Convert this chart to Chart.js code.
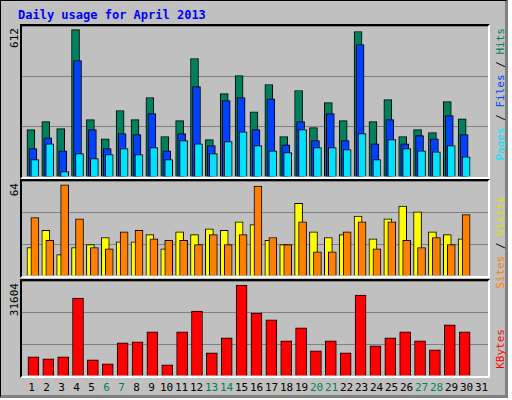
<!DOCTYPE html>
<html><head><meta charset="utf-8">
<script src="https://cdn.jsdelivr.net/npm/chart.js@4"></script>
<style>
body{margin:0;width:512px;height:400px;overflow:hidden;background:#fff;font-family:"DejaVu Sans Mono",monospace;}
#wrap{position:absolute;left:0;top:0;width:504px;height:394px;background:#c0c0c0;border:1px solid #000;border-right:3px solid #808080;border-bottom:3px solid #808080;}
.panel{position:absolute;left:20px;width:470px;background:#c0c0c0;border-top:2px solid #000;border-left:2px solid #000;border-right:2px solid #fff;border-bottom:2px solid #fff;box-sizing:border-box;}
.panel canvas{position:absolute;left:0;top:0;}
.vt{position:absolute;writing-mode:vertical-rl;transform:rotate(180deg);font-size:11px;white-space:nowrap;}
#title{position:absolute;left:18px;top:8px;color:#0000ff;font-weight:bold;font-size:12px;}
.day{position:absolute;top:381px;font-size:11px;width:16px;text-align:center;}
</style></head><body>
<div id="wrap"></div>
<div id="title">Daily usage for April 2013</div>
<div class="panel" id="p1" style="top:24px;height:155px"><canvas id="c1"></canvas></div>
<div class="panel" id="p2" style="top:179px;height:99px"><canvas id="c2"></canvas></div>
<div class="panel" id="p3" style="top:279px;height:99px"><canvas id="c3"></canvas></div>
<div class="vt" style="left:8px;top:28px">612</div>
<div class="vt" style="left:8px;top:183px">64</div>
<div class="vt" style="left:8px;top:283px">31604</div>
<div class="vt" style="left:494px;top:28px"><span style="color:#00e0ff">Pages</span> / <span style="color:#0040ff">Files</span> / <span style="color:#00805c">Hits</span></div>
<div class="vt" style="left:494px;top:196px"><span style="color:#ff8000">Sites</span> / <span style="color:#e0e000">Visits</span></div>
<div class="vt" style="left:494px;top:329px;color:#ff0000">KBytes</div>
<div id="days"></div>
<script>
const days=[1,2,3,4,5,6,7,8,9,10,11,12,13,14,15,16,17,18,19,20,21,22,23,24,25,26,27,28,29,30,31];
const weekends=[6,7,13,14,20,21,27,28];
const hits=[197,230,201,612,238,159,276,238,330,168,234,492,155,346,421,271,384,168,359,205,309,234,604,230,321,168,197,184,313,242];
const files=[118,163,109,483,197,118,180,176,263,109,180,375,130,317,330,197,325,134,230,151,263,151,550,138,238,138,172,159,255,176];
const pages=[72,138,22,97,76,93,118,93,122,72,151,138,97,147,188,130,109,101,197,122,122,114,180,72,155,118,109,105,130,84];
const visits=[20,32,15,20,22,27,24,24,29,19,31,29,33,32,38,36,25,22,51,31,27,29,42,26,40,49,45,31,29,26];
const sites=[41,25,64,40,20,19,31,32,26,25,25,22,29,22,29,63,27,22,38,17,17,31,38,19,38,25,20,27,22,43];
const kbytes=[6690,6000,6690,27100,5650,4270,11530,11880,15340,3920,15340,22600,8070,13260,31604,21900,19490,12220,16720,8760,12220,8070,28140,10490,13260,15340,12220,9110,17760,15340];

const dd=document.getElementById('days');
days.forEach(d=>{const e=document.createElement('div');e.className='day';e.textContent=d;
 e.style.left=(31.5+(d-1)*15-8)+'px';e.style.color=weekends.includes(d)?'#00805c':'#000';dd.appendChild(e);});

function mk(id,w,h,ymax,sets){
 const c=document.getElementById(id);c.width=w;c.height=h;c.style.width=w+'px';c.style.height=h+'px';
 new Chart(c,{type:'bar',data:{datasets:sets.map((s,k)=>({data:s.v.map((v,i)=>({x:days[i]+s.o,y:v})),backgroundColor:s.c,borderColor:'#000',borderWidth:1,barThickness:s.w,grouped:false,order:sets.length-k}))},
 options:{responsive:false,animation:false,devicePixelRatio:1,layout:{padding:0},
  plugins:{legend:{display:false},tooltip:{enabled:false}},
  scales:{x:{type:'linear',offset:false,min:0.233,max:31.57,display:false},
   y:{min:0,max:ymax,border:{display:false},ticks:{display:false},
    afterBuildTicks:a=>{a.ticks=[0,ymax/3,2*ymax/3,ymax].map(v=>({value:v}));},
    grid:{color:'#808080',drawTicks:false,tickLength:0}}}}});
}
mk('c1',466,151,627,[{v:hits,o:-0.167,c:'#00805c',w:8},{v:files,o:-0.033,c:'#0040ff',w:8},{v:pages,o:0.1,c:'#00e0ff',w:8}]);
mk('c2',466,95,66.6,[{v:visits,o:-0.167,c:'#ffff00',w:8},{v:sites,o:0.1,c:'#ff8000',w:8}]);
mk('c3',466,95,33020,[{v:kbytes,o:0,c:'#ff0000',w:11}]);
</script></body></html>
